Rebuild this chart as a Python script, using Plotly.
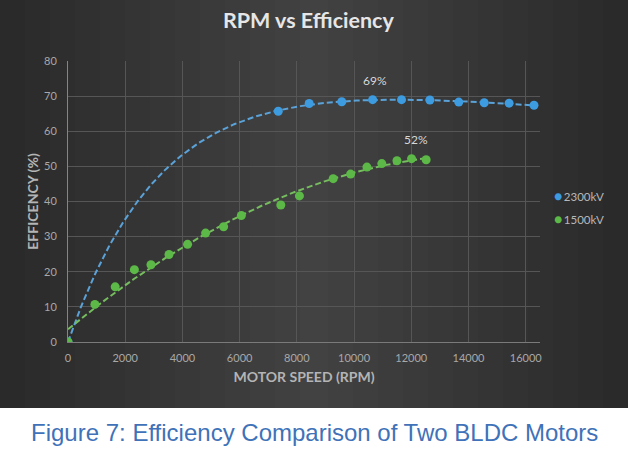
import numpy as np
import plotly.graph_objects as go

# ---- data ----
rpm_2300 = [0, 7350, 8430, 9570, 10650, 11660, 12650, 13660, 14550, 15420, 16290]
eff_2300 = [0, 65.7, 67.9, 68.4, 69.0, 69.0, 68.9, 68.3, 68.1, 68.0, 67.4]

rpm_1500 = [0, 940, 1650, 2320, 2900, 3530, 4180, 4810, 5440, 6060, 7440, 8090,
            9270, 9880, 10450, 10970, 11500, 12010, 12520]
eff_1500 = [0, 10.7, 15.7, 20.6, 22.0, 24.9, 27.8, 31.0, 32.8, 36.0, 39.0, 41.6,
            46.5, 47.8, 49.8, 50.8, 51.6, 52.2, 51.9]

series_names = ["2300kV", "1500kV"]
peak_labels = ["69%", "52%"]
x_ticks = [0, 2000, 4000, 6000, 8000, 10000, 12000, 14000, 16000]
y_ticks = [0, 10, 20, 30, 40, 50, 60, 70, 80]

BLUE = "#3d9be0"
GREEN = "#5cb947"
BLUE_LINE = "#5aa2d8"
GREEN_LINE = "#76bd5f"
FONT = "Lato"


# ---- trendlines fitted to the data ----
def poly_trend(x, y, deg):
    c = np.polyfit(np.array(x, float), np.array(y, float), deg)
    xs = np.linspace(0, max(x), 200)
    return xs, np.polyval(c, xs)


def saturating_trend(x, y):
    # least-squares fit of y = A(1 - exp(-x/tau)) - B x
    xk = np.array(x, float) / 1000.0
    yv = np.array(y, float)
    best = None
    for tau in np.linspace(1.0, 8.0, 281):
        M = np.column_stack([1 - np.exp(-xk / tau), -xk])
        coef = np.linalg.lstsq(M, yv, rcond=None)[0]
        r = float(np.sum((M @ coef - yv) ** 2))
        if best is None or r < best[0]:
            best = (r, tau, coef)
    _, tau, (A, B) = best
    xs = np.linspace(0, max(x), 300)
    xsk = xs / 1000.0
    return xs, A * (1 - np.exp(-xsk / tau)) - B * xsk


bx, by = saturating_trend(rpm_2300, eff_2300)
gx, gy = poly_trend(rpm_1500, eff_1500, 2)

fig = go.Figure()

fig.add_trace(go.Scatter(x=bx, y=by, mode="lines", showlegend=False, hoverinfo="skip",
                         line=dict(color=BLUE_LINE, width=2, dash="6px,3px")))
fig.add_trace(go.Scatter(x=gx, y=gy, mode="lines", showlegend=False, hoverinfo="skip",
                         line=dict(color=GREEN_LINE, width=2, dash="6px,3px")))
fig.add_trace(go.Scatter(x=rpm_2300, y=eff_2300, mode="markers", name=series_names[0],
                         showlegend=False, marker=dict(color=BLUE, size=9)))
fig.add_trace(go.Scatter(x=rpm_1500, y=eff_1500, mode="markers", name=series_names[1],
                         showlegend=False, marker=dict(color=GREEN, size=9)))

# peak labels
ib = int(np.argmax(eff_2300))
ig = int(np.argmax(eff_1500))
fig.add_annotation(x=rpm_2300[ib], y=eff_2300[ib], text=peak_labels[0], showarrow=False,
                   yshift=19, xshift=2, font=dict(family=FONT, size=12, color="#d8d8d8"))
fig.add_annotation(x=rpm_1500[ig], y=eff_1500[ig], text=peak_labels[1], showarrow=False,
                   yshift=19, xshift=4, font=dict(family=FONT, size=12, color="#d8d8d8"))

# legend (drawn as text so that marker and label sit close together, as in the reference)
for i, (name, col) in enumerate(zip(series_names, [BLUE, GREEN])):
    fig.add_annotation(xref="paper", yref="paper", x=(552 - 68) / 472, y=(342 - (195 + 23 * i)) / 281,
                       xanchor="left", yanchor="middle", showarrow=False,
                       text=f"<span style='color:{col};font-size:14px'>●</span>\u2009{name}",
                       font=dict(family=FONT, size=11.5, color="#b8b8b8"))

# dark chart panel with a horizontal vignette
PX = lambda p: (p - 68) / 472.0
PY0, PY1 = (342 - 408) / 281.0, (342 - 0) / 281.0
fig.add_shape(type="rect", xref="paper", yref="paper", x0=PX(0), x1=PX(628), y0=PY0, y1=PY1,
              fillcolor="#2a2a2a", line=dict(width=0), layer="below")
for i in range(1, 13):
    fig.add_shape(type="rect", xref="paper", yref="paper", x0=PX(i * 25), x1=PX(628 - i * 25),
                  y0=PY0, y1=PY1, fillcolor="rgba(255,255,255,0.0125)", line=dict(width=0),
                  layer="below")

# caption
fig.add_annotation(xref="paper", yref="paper", x=PX(29), y=(342 - 432) / 281.0, xanchor="left",
                   yanchor="middle", text="Figure 7: Efficiency Comparison of Two BLDC Motors",
                   showarrow=False, font=dict(family="Liberation Sans", size=24, color="#3f72b8"))

fig.update_layout(
    width=628, height=452, autosize=False,
    margin=dict(l=68, r=88, t=61, b=110, autoexpand=False),
    paper_bgcolor="white", plot_bgcolor="rgba(0,0,0,0)",
    showlegend=False,
    title=dict(text="<b>RPM vs Efficiency</b>", x=0.491, xanchor="center", y=1 - 20 / 452,
               yanchor="middle", font=dict(family=FONT, size=21.5, color="#e6e6e6")),
    font=dict(family=FONT, color="#a8a8a8"),
    xaxis=dict(range=[0, 16500], tickvals=x_ticks, ticktext=[str(v) for v in x_ticks],
               showgrid=True, gridcolor="#565656", gridwidth=1, zeroline=False,
               showline=True, linecolor="#7a7a7a", linewidth=1, ticks="",
               ticklabelstandoff=6,
               tickfont=dict(family=FONT, size=11, color="#a8a8a8"),
               title=dict(text="<b>MOTOR SPEED (RPM)</b>", standoff=8,
                          font=dict(family=FONT, size=14, color="#b4b4b4"))),
    yaxis=dict(range=[0, 80], tickvals=y_ticks, ticktext=[str(v) for v in y_ticks],
               showgrid=True, gridcolor="#565656", gridwidth=1, zeroline=False,
               showline=True, linecolor="#858585", linewidth=1, ticks="",
               ticklabelstandoff=8,
               tickfont=dict(family=FONT, size=11, color="#a8a8a8"),
               title=dict(text="<b>EFFICENCY (%)</b>", standoff=2,
                          font=dict(family=FONT, size=14, color="#b4b4b4"))),
)

fig.write_html("out.html", config={"displayModeBar": False},
               post_script="document.body.style.margin='0px';")
